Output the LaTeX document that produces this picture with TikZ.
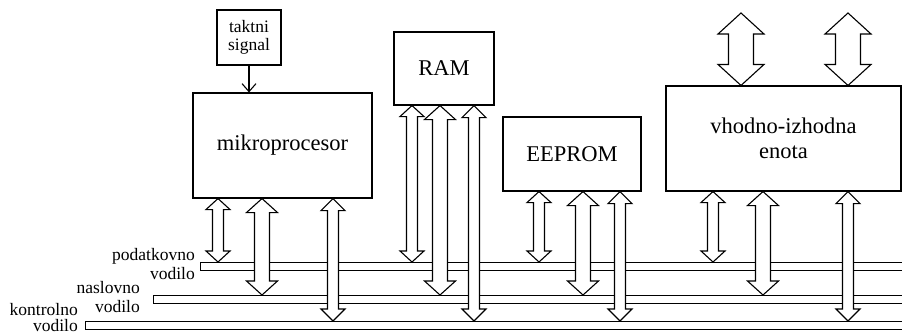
\documentclass[tikz,border=0pt]{standalone}
\usepackage{fontspec}
\setmainfont{Liberation Serif}
\usetikzlibrary{arrows.meta,calc}

% block arrow with two heads: shaft half width, head half width, head length, top, bottom
\newcommand{\busarrow}[5]{%
  \draw[barrow] let \p1=(#4), \p2=(#5) in
    (\x1,\y1) -- (\x1+#2pt,\y1-#3pt) -- (\x1+#1pt,\y1-#3pt) -- (\x1+#1pt,\y2+#3pt)
    -- (\x1+#2pt,\y2+#3pt) -- (\x1,\y2) -- (\x1-#2pt,\y2+#3pt) -- (\x1-#1pt,\y2+#3pt)
    -- (\x1-#1pt,\y1-#3pt) -- (\x1-#2pt,\y1-#3pt) -- cycle;}

\begin{document}
\begin{tikzpicture}[x=1pt, y=-1pt,
    unit/.style={draw, line width=1.1pt, inner sep=0pt, align=center,
      font=\fontsize{22.5}{25}\selectfont},
    small/.style={font=\fontsize{17.5}{18.5}\selectfont},
    bus/.style={draw, line width=1.1pt, inner sep=0pt, minimum height=8pt,
      anchor=north west},
    buslab/.style={small, align=right, anchor=east, inner sep=0pt},
    barrow/.style={draw, fill=white, line width=1.1pt, line join=miter},
    clk/.style={-{Straight Barb[length=8pt,width=14pt]}, line width=1.1pt}]

  \useasboundingbox (0,0) rectangle (902,335);

  % ---- blocks ----------------------------------------------------------------
  \node[unit, small, minimum width=64, minimum height=55] (clk) at (249,37.5)
    {taktni\\signal};
  \node[unit, minimum width=179, minimum height=105] (mp) at (282.5,145.5)
    {mikroprocesor};
  \node[unit, minimum width=100, minimum height=73] (ram) at (444,68.5) {RAM};
  \node[unit, minimum width=138, minimum height=74] (ee) at (572,154) {EEPROM};
  \node[unit, minimum width=235, minimum height=105] (io) at (783.5,138.5)
    {vhodno-izhodna\\enota};
  \draw[clk] (clk.south) -- (clk.south |- mp.north);

  % ---- the three buses -------------------------------------------------------
  \node[bus, minimum width=720] (dbus) at (200,262) {};
  \node[bus, minimum width=770] (abus) at (153,295) {};
  \node[bus, minimum width=840] (cbus) at (85,321) {};
  \node[buslab] at ([xshift=-5pt, yshift=2.5pt]dbus.west) {podatkovno\\vodilo};
  \node[buslab] at ([xshift=-13pt, yshift=2.5pt]abus.west) {naslovno\\vodilo};
  \node[buslab, font=\fontsize{17.5}{16}\selectfont]
    at ([xshift=-7pt, yshift=8pt]cbus.west) {kontrolno\\vodilo};

  % ---- block to bus arrows ---------------------------------------------------
  \foreach \ax/\blk in {218/mp, 412/ram, 539/ee, 713/io}
    { \busarrow{5.5}{12}{11}{\ax,0 |- \blk.south}{\ax,0 |- dbus.north} }
  \foreach \ax/\blk in {262/mp, 440/ram, 583/ee, 763/io}
    { \busarrow{7.5}{15.5}{14}{\ax,0 |- \blk.south}{\ax,0 |- abus.north} }
  \foreach \ax/\blk in {333/mp, 474/ram, 620/ee, 848/io}
    { \busarrow{5.5}{12}{12}{\ax,0 |- \blk.south}{\ax,0 |- cbus.north} }

  % ---- outside ports of the i/o unit -----------------------------------------
  \foreach \ax/\pn in {741/portA, 848/portB} {
    \coordinate (\pn) at (\ax,13);
    \busarrow{12.5}{23}{21}{\pn}{\ax,0 |- io.north}
  }
\end{tikzpicture}
\end{document}
